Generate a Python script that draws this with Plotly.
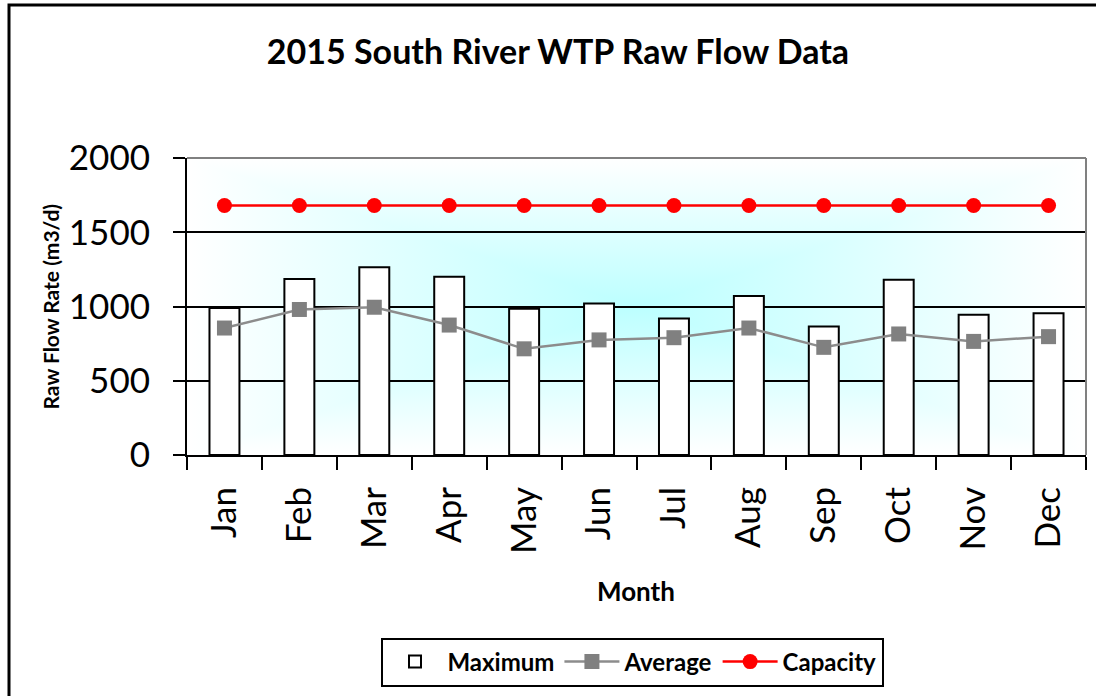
import base64
import plotly.graph_objects as go

months = ["Jan", "Feb", "Mar", "Apr", "May", "Jun", "Jul", "Aug", "Sep", "Oct", "Nov", "Dec"]
maximum = [990, 1185, 1265, 1200, 985, 1020, 920, 1070, 865, 1180, 945, 955]
average = [855, 980, 995, 875, 715, 775, 790, 855, 725, 815, 765, 797]
capacity = [1680, 1680, 1680, 1680, 1680, 1680, 1680, 1680, 1680, 1680, 1680, 1680]

FONT = "Lato"

# "from centre" rectangular gradient for the plot area
svg = (
    "<svg xmlns='http://www.w3.org/2000/svg' viewBox='0 0 100 100' preserveAspectRatio='none'>"
    "<defs>"
    "<linearGradient id='v' gradientUnits='userSpaceOnUse' x1='0' y1='0' x2='0' y2='100'>"
    "<stop offset='0' stop-color='#ffffff'/><stop offset='0.5' stop-color='#bcffff'/>"
    "<stop offset='1' stop-color='#ffffff'/></linearGradient>"
    "<linearGradient id='h' gradientUnits='userSpaceOnUse' x1='0' y1='0' x2='100' y2='0'>"
    "<stop offset='0' stop-color='#ffffff'/><stop offset='0.5' stop-color='#bcffff'/>"
    "<stop offset='1' stop-color='#ffffff'/></linearGradient>"
    "</defs>"
    "<rect x='0' y='0' width='100' height='100' fill='url(#v)'/>"
    "<polygon points='0,0 50,50 0,100' fill='url(#h)'/>"
    "<polygon points='100,0 50,50 100,100' fill='url(#h)'/>"
    "</svg>"
)
svg_uri = "data:image/svg+xml;base64," + base64.b64encode(svg.encode()).decode()

fig = go.Figure()
fig.add_trace(go.Bar(
    x=months, y=maximum, name="Maximum",
    marker=dict(color="white", line=dict(color="black", width=2)),
))
fig.add_trace(go.Scatter(
    x=months, y=average, name="Average", mode="lines+markers",
    line=dict(color="#8c8c8c", width=2.5),
    marker=dict(symbol="square", size=15, color="#808080"),
))
fig.add_trace(go.Scatter(
    x=months, y=capacity, name="Capacity", mode="lines+markers",
    line=dict(color="#ff0000", width=2.5),
    marker=dict(symbol="circle", size=15, color="#ff0000"),
))

L, R, T, B = 187, 10, 158, 241
W, H = 1096, 696
pw, ph = W - L - R, H - T - B


def px(xp):
    return (xp - L) / pw


def py(yp):
    return (H - B - yp) / ph


fig.update_layout(
    width=W, height=H,
    margin=dict(l=L, r=R, t=T, b=B, pad=0, autoexpand=False),
    paper_bgcolor="white",
    plot_bgcolor="rgba(0,0,0,0)",
    bargap=0.6,
    font=dict(family=FONT, color="black"),
    title=dict(
        text="<b>2015 South River WTP Raw Flow Data</b>",
        font=dict(family=FONT, size=34, color="black"),
        xref="container", yref="container",
        x=558 / W, y=1 - 52 / H, xanchor="center", yanchor="middle",
    ),
    xaxis=dict(
        type="category",
        range=[-0.5, len(months) - 0.5],
        automargin=False,
        tickson="boundaries",
        ticks="outside", ticklen=13, tickwidth=2, tickcolor="black",
        tickangle=-90,
        tickfont=dict(family=FONT, size=35, color="black"),
        ticklabelstandoff=16,
        showline=True, linecolor="black", linewidth=2,
        showgrid=False,
    ),
    yaxis=dict(
        automargin=False,
        range=[0, 2000], dtick=500,
        ticks="outside", ticklen=12, tickwidth=2, tickcolor="black",
        tickfont=dict(family=FONT, size=35, color="black"),
        ticklabelstandoff=16,
        showline=True, linecolor="black", linewidth=2,
        showgrid=True, gridcolor="black", gridwidth=2,
        zeroline=False,
    ),
    legend=dict(
        orientation="h",
        x=px(632), y=py(662), xanchor="center", yanchor="middle",
        bordercolor="black", borderwidth=2,
        bgcolor="white",
        font=dict(family=FONT, size=24, color="black", weight="bold"),
        itemwidth=55,
        traceorder="normal",
    ),
    images=[dict(
        source=svg_uri, xref="paper", yref="paper",
        x=0, y=1, sizex=1, sizey=1, xanchor="left", yanchor="top",
        sizing="stretch", layer="below",
    )],
    shapes=[
        # grey plot-area border (top and right)
        dict(type="line", xref="paper", yref="paper", x0=0, x1=1, y0=1, y1=1,
             line=dict(color="#808080", width=2), layer="above"),
        dict(type="line", xref="paper", yref="paper", x0=1, x1=1, y0=0, y1=1,
             line=dict(color="#808080", width=2), layer="above"),
        # outer chart border
        dict(type="rect", xref="paper", yref="paper",
             x0=px(9), x1=px(1110), y0=py(710), y1=py(5),
             line=dict(color="black", width=3), fillcolor="rgba(0,0,0,0)", layer="above"),
    ],
    annotations=[
        dict(text="<b>Raw Flow Rate (m3/d)</b>", xref="paper", yref="paper",
             x=px(50), y=0.5, textangle=-90, showarrow=False,
             xanchor="center", yanchor="middle",
             font=dict(family=FONT, size=21, color="black")),
        dict(text="<b>Month</b>", xref="paper", yref="paper",
             x=px(636), y=py(591), showarrow=False,
             xanchor="center", yanchor="middle",
             font=dict(family=FONT, size=26, color="black")),
    ],
)

fig.write_html(
    "out.html",
    config={"displayModeBar": False},
    post_script="document.body.style.margin='0';document.body.style.overflow='hidden';",
)
